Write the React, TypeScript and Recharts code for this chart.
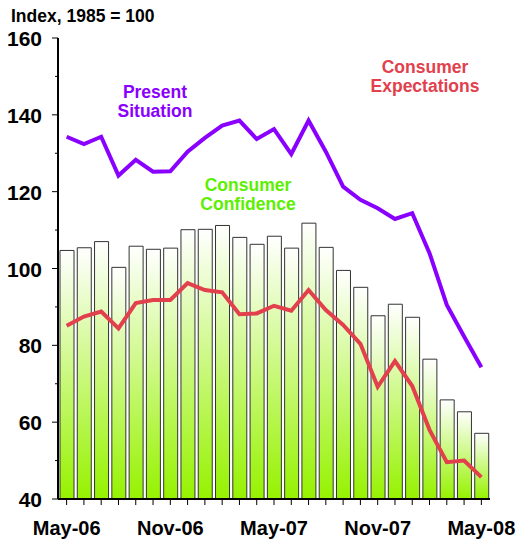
import React from "react";
import {
  ComposedChart,
  Bar,
  Line,
  XAxis,
  YAxis,
  Customized,
} from "recharts";

const months = [
  "May-06", "Jun-06", "Jul-06", "Aug-06", "Sep-06", "Oct-06", "Nov-06",
  "Dec-06", "Jan-07", "Feb-07", "Mar-07", "Apr-07", "May-07", "Jun-07",
  "Jul-07", "Aug-07", "Sep-07", "Oct-07", "Nov-07", "Dec-07", "Jan-08",
  "Feb-08", "Mar-08", "Apr-08", "May-08",
];

const confidence = [
  104.7, 105.4, 107.0, 100.3, 105.8, 105.0, 105.3, 110.1, 110.2, 111.2,
  108.1, 106.3, 108.4, 105.3, 111.8, 105.5, 99.5, 95.1, 87.7, 90.7, 87.3,
  76.4, 65.8, 62.7, 57.1,
];

const present = [
  134.3, 132.4, 134.3, 124.2, 128.3, 125.2, 125.3, 130.4, 134.0, 137.2,
  138.5, 133.7, 136.3, 129.8, 138.5, 130.4, 121.3, 117.9, 115.7, 112.9,
  114.4, 104.0, 90.5, 82.3, 74.3,
];

const expectations = [
  85.1, 87.5, 88.8, 84.4, 91.0, 91.8, 91.8, 96.2, 94.4, 93.8, 88.1, 88.3,
  90.3, 89.0, 94.4, 89.2, 85.3, 80.4, 69.2, 75.9, 69.4, 58.0, 49.6, 50.0,
  45.7,
];

const yTicks = [40, 50, 60, 70, 80, 90, 100, 110, 120, 130, 140, 150, 160];
const yLabelTicks = [40, 60, 80, 100, 120, 140, 160];
const xLabelEvery = 6;

const data = months.map((m, i) => ({
  month: m,
  confidence: confidence[i],
  present: present[i],
  expectations: expectations[i],
}));

const FONT = "'Liberation Sans', Arial, Helvetica, sans-serif";

const YTick = (props: any) => {
  const { x, y, payload } = props;
  const major = yLabelTicks.includes(payload.value);
  return (
    <g>
      <line
        x1={major ? x - 6 : x - 3}
        x2={x}
        y1={y}
        y2={y}
        stroke="#000"
        strokeWidth={1}
      />
      {major && (
        <text
          x={x - 16}
          y={y + 8}
          textAnchor="end"
          fontFamily={FONT}
          fontWeight="bold"
          fontSize={21}
          fill="#000"
        >
          {payload.value}
        </text>
      )}
    </g>
  );
};

const XTick = (props: any) => {
  const { x, y, payload, index } = props;
  const idx = typeof index === "number" ? index : months.indexOf(payload.value);
  return (
    <g>
      <line x1={x} x2={x} y1={y} y2={y + 6} stroke="#000" strokeWidth={1} />
      {idx % xLabelEvery === 0 && (
        <text
          x={x}
          y={y + 36}
          textAnchor="middle"
          fontFamily={FONT}
          fontWeight="bold"
          fontSize={20}
          fill="#000"
        >
          {payload.value}
        </text>
      )}
    </g>
  );
};

const Labels = () => (
  <g fontFamily={FONT} fontWeight="bold" fontSize={17.5}>
    <text x={11} y={22} fill="#000" fontSize={17.5}>
      Index, 1985 = 100
    </text>
    <text x={155} y={98} textAnchor="middle" fill="#8a00ff">
      Present
    </text>
    <text x={155} y={117} textAnchor="middle" fill="#8a00ff">
      Situation
    </text>
    <text x={248} y={191} textAnchor="middle" fill="#5cf000">
      Consumer
    </text>
    <text x={248} y={210} textAnchor="middle" fill="#5cf000">
      Confidence
    </text>
    <text x={425} y={73} textAnchor="middle" fill="#e2404c">
      Consumer
    </text>
    <text x={425} y={92} textAnchor="middle" fill="#e2404c">
      Expectations
    </text>
  </g>
);

export default function App() {
  return (
    <div style={{ position: "absolute", left: 0, top: 0, width: 518, height: 542, background: "#fff" }}>
      <ComposedChart
        width={518}
        height={542}
        data={data}
        margin={{ top: 38, right: 28, bottom: 0, left: 0 }}
      >
        <defs>
          <linearGradient id="barGrad" x1="0" y1="0" x2="0" y2="1">
            <stop offset="0%" stopColor="#ffffff" />
            <stop offset="100%" stopColor="#96f200" />
          </linearGradient>
        </defs>
        <XAxis
          dataKey="month"
          interval={0}
          height={43}
          tickSize={0}
          tickMargin={0}
          tickLine={false}
          tick={<XTick />}
          axisLine={{ stroke: "#000", strokeWidth: 2 }}
        />
        <XAxis
          xAxisId="top"
          dataKey="month"
          orientation="top"
          height={0}
          tick={false}
          tickLine={false}
          axisLine={{ stroke: "#666", strokeWidth: 1 }}
        />
        <YAxis
          domain={[40, 160]}
          ticks={yTicks}
          interval={0}
          width={58}
          tickSize={0}
          tickMargin={0}
          tickLine={false}
          tick={<YTick />}
          axisLine={{ stroke: "#000", strokeWidth: 2 }}
          allowDataOverflow
        />
        <YAxis
          yAxisId="right"
          orientation="right"
          domain={[40, 160]}
          width={0}
          tick={false}
          tickLine={false}
          axisLine={{ stroke: "#666", strokeWidth: 1 }}
        />
        <Bar
          dataKey="confidence"
          barSize={14}
          fill="url(#barGrad)"
          stroke="#333"
          strokeWidth={1}
          isAnimationActive={false}
        />
        <Line
          dataKey="present"
          type="linear"
          stroke="#8a00ff"
          strokeWidth={4}
          dot={false}
          activeDot={false}
          isAnimationActive={false}
        />
        <Line
          dataKey="expectations"
          type="linear"
          stroke="#e2404c"
          strokeWidth={4}
          dot={false}
          activeDot={false}
          isAnimationActive={false}
        />
        <Customized component={Labels} />
      </ComposedChart>
    </div>
  );
}
